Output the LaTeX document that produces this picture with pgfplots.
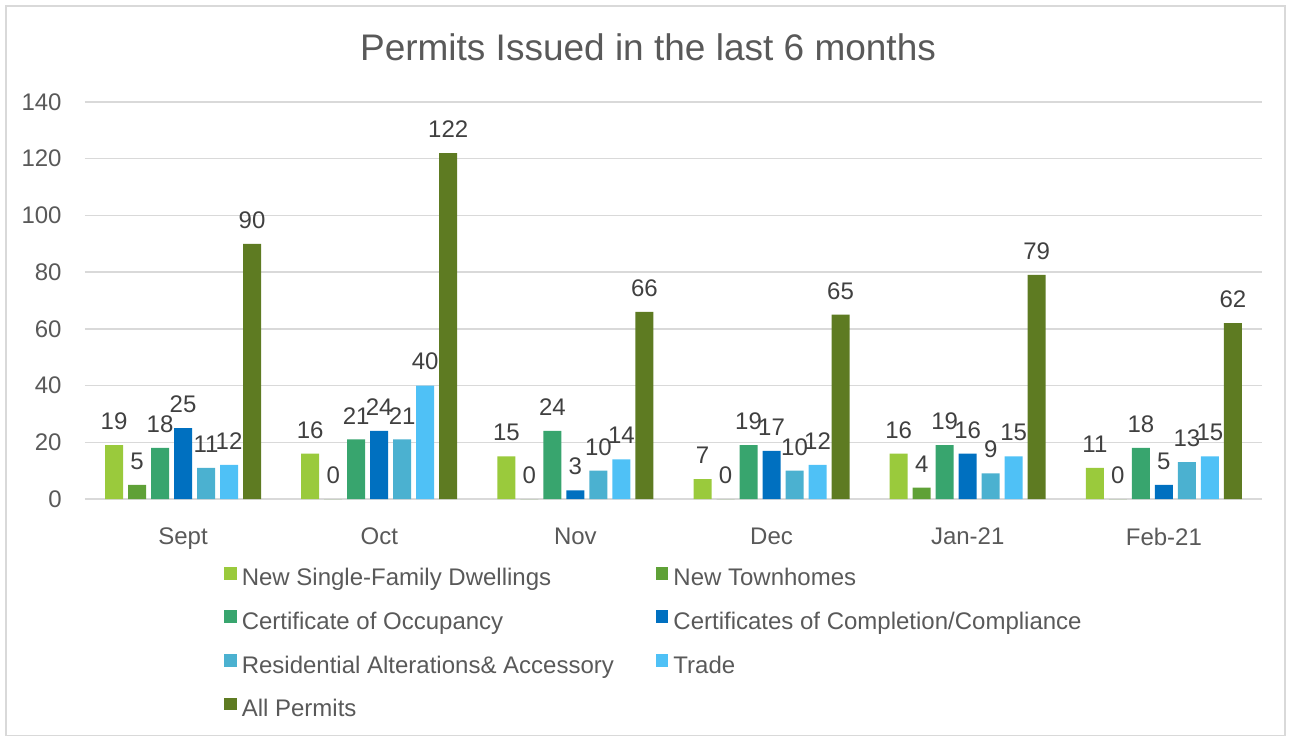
\documentclass[border=0pt]{standalone}
\usepackage{fontspec}
\setmainfont{Liberation Sans}
\usepackage{pgfplots}
\pgfplotsset{compat=1.18}
\definecolor{c1}{HTML}{9ACA3C}
\definecolor{c2}{HTML}{5FA137}
\definecolor{c3}{HTML}{38A56E}
\definecolor{c4}{HTML}{0070C0}
\definecolor{c5}{HTML}{4BB1D0}
\definecolor{c6}{HTML}{4FC1F6}
\definecolor{c7}{HTML}{5E7B22}
\definecolor{gridc}{HTML}{D9D9D9}
\definecolor{txt}{HTML}{595959}
\definecolor{lbl}{HTML}{404040}
\begin{document}
\begin{tikzpicture}
\useasboundingbox (-42.5pt,-118pt) rectangle (603pt,249.5pt);
\draw[line width=0.75pt, color=gridc] (-39.5pt,-118.5pt) rectangle (600pt,246.5pt);
\begin{axis}[
  at={(0pt,0pt)}, anchor=south west,
  scale only axis, width=588.5pt, height=198.5pt,
  ybar=2.5pt, bar width=9pt,
  xmin=-0.5, xmax=5.5, ymin=0, ymax=140,
  xtick={0,1,2,3,4,5},
  xticklabels={Sept,Oct,Nov,Dec,Jan-21,Feb-21},
  ytick={0,20,40,60,80,100,120,140},
  /pgf/number format/assume math mode=true,
  axis line style={draw=none},
  tick style={draw=none},
  ymajorgrids,
  grid style={color=gridc, line width=0.75pt},
  ticklabel style={font=\fontsize{12}{14}\selectfont, text=txt},
  yticklabel style={inner sep=0pt, anchor=east, xshift=-11.5pt},
  xticklabel style={inner sep=0pt, anchor=north, yshift=-10pt},
  nodes near coords,
  every node near coord/.append style={font=\fontsize{12}{14}\selectfont, text=lbl, inner sep=0pt, anchor=south, yshift=7.5pt},
  every axis plot post/.append style={legend image code/.code={\fill[##1,draw=none] (0pt,-0.1pt) rectangle (6.25pt,6.25pt);}},
  legend columns=2,
  legend cell align=left,
  legend style={at={(axis description cs:0.118,-0.170)}, anchor=north west, draw=none, fill=none, inner sep=0pt,
    font=\fontsize{12}{14}\selectfont, text=txt,
    nodes={inner sep=0pt, text height=9pt, text depth=2.5pt},
    row sep=9.8pt,
    /tikz/every odd column/.append style={column sep=2.5pt},
    /tikz/every even column/.append style={column sep=21pt}},
]
\addplot[fill=c1, draw=none] coordinates {(0,19)(1,16)(2,15)(3,7)(4,16)(5,11)};
\addplot[fill=c2, draw=none] coordinates {(0,5)(1,0)(2,0)(3,0)(4,4)(5,0)};
\addplot[fill=c3, draw=none] coordinates {(0,18)(1,21)(2,24)(3,19)(4,19)(5,18)};
\addplot[fill=c4, draw=none] coordinates {(0,25)(1,24)(2,3)(3,17)(4,16)(5,5)};
\addplot[fill=c5, draw=none] coordinates {(0,11)(1,21)(2,10)(3,10)(4,9)(5,13)};
\addplot[fill=c6, draw=none] coordinates {(0,12)(1,40)(2,14)(3,12)(4,15)(5,15)};
\addplot[fill=c7, draw=none] coordinates {(0,90)(1,122)(2,66)(3,65)(4,79)(5,62)};
\legend{New Single-Family Dwellings, New Townhomes, Certificate of Occupancy, Certificates of Completion/Compliance, Residential Alterations\& Accessory, Trade, All Permits}
\end{axis}
\node[font=\fontsize{18.5}{22}\selectfont, text=txt] at (281.5pt,226pt) {Permits Issued in the last 6 months};
\end{tikzpicture}
\end{document}
